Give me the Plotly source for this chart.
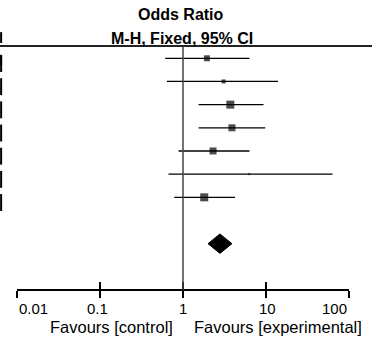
import math
import plotly.graph_objects as go

# Study rows (odds ratio, 95% CI)
rows = [0, 1, 2, 3, 4, 5, 6]
or_point = [1.94, 3.08, 3.71, 3.88, 2.30, 6.27, 1.80]
ci_low = [0.61, 0.64, 1.54, 1.54, 0.885, 0.67, 0.785]
ci_high = [6.3, 13.9, 9.3, 9.75, 6.3, 62.8, 4.23]
weight_px = [6, 4, 8, 7, 7, 2, 8]

# Pooled estimate
pooled_row = 8
pooled_or = 2.78
pooled_low = 2.0
pooled_high = 3.88

tick_vals = [0.01, 0.1, 1, 10, 100]
tick_text = ["0.01", "0.1", "1", "10", "100"]

FONT = "Liberation Sans, Arial, sans-serif"
W, H = 372, 339
y_top, y_bot = -2.516, 12.115
axis_row = 10

fig = go.Figure()

# Study estimates with CI
fig.add_trace(go.Scatter(
    x=or_point, y=rows, mode="markers",
    marker=dict(symbol="square", size=weight_px, color="black", line=dict(width=0)),
    error_x=dict(type="data", symmetric=False,
                 array=[h - p for h, p in zip(ci_high, or_point)],
                 arrayminus=[p - l for p, l in zip(or_point, ci_low)],
                 color="black", thickness=1.3, width=0),
    showlegend=False, cliponaxis=False, hoverinfo="skip"))

# Pooled diamond
dh = 0.42
fig.add_trace(go.Scatter(
    x=[pooled_low, pooled_or, pooled_high, pooled_or, pooled_low],
    y=[pooled_row, pooled_row - dh, pooled_row, pooled_row + dh, pooled_row],
    mode="lines", fill="toself", fillcolor="black",
    line=dict(color="black", width=1), showlegend=False, hoverinfo="skip"))

# Dummy trace for the second (inside-tick) axis
fig.add_trace(go.Scatter(x=[1], y=[axis_row], xaxis="x2", mode="markers",
                         marker=dict(size=0.1, opacity=0), showlegend=False,
                         hoverinfo="skip"))

shapes = []
# line of no effect
shapes.append(dict(type="line", xref="x", yref="y", x0=1, x1=1, y0=-0.52, y1=axis_row,
                   line=dict(color="#444", width=1.5)))
# header rule
shapes.append(dict(type="line", xref="paper", yref="y", x0=0, x1=1, y0=-0.53, y1=-0.53,
                   line=dict(color="#222", width=2)))
# clipped table edge marks at the left
for r in [-1] + rows + [pooled_row]:
    if r == -1:
        a, b = -1.13, -0.66
    elif r == pooled_row:
        a, b = -0.15, 0.3
    else:
        a, b = r - 0.14, r + 0.59
    shapes.append(dict(type="line", xref="paper", yref="y", x0=0.003, x1=0.003, y0=a, y1=b,
                       line=dict(color="black", width=2)))

axis_pos = (y_bot - axis_row) / (y_bot - y_top)

common = dict(type="log", range=[-2, 2], domain=[16.7 / W, 349.3 / W],
              anchor="free", position=axis_pos, showgrid=False, zeroline=False,
              showline=True, linecolor="black", linewidth=1.5, automargin=False,
              tickvals=tick_vals, tickcolor="black", tickwidth=1.5, ticklen=7,
              showticklabels=False)

annotations = [
    dict(text="<b>Odds Ratio</b>", xref="paper", yref="paper", x=181 / W,
         y=(H - 15) / H, showarrow=False, xanchor="center", yanchor="middle",
         font=dict(family=FONT, size=16, color="black")),
    dict(text="<b>M-H, Fixed, 95% CI</b>", xref="paper", yref="paper", x=181.5 / W,
         y=(H - 38) / H, showarrow=False, xanchor="center", yanchor="middle",
         font=dict(family=FONT, size=16, color="black")),
    dict(text="Favours [control]", xref="paper", yref="paper", x=175 / W,
         y=(H - 327) / H, showarrow=False, xanchor="right", yanchor="middle",
         font=dict(family=FONT, size=16.5, color="black")),
    dict(text="Favours [experimental]", xref="paper", yref="paper", x=192 / W,
         y=(H - 327) / H, showarrow=False, xanchor="left", yanchor="middle",
         font=dict(family=FONT, size=16.5, color="black")),
]
# tick labels (end labels kept inside the axis span, as in the reference)
label_anchor = ["left", "center", "center", "center", "right"]
label_shift = [0, -2, 0, 1, 0]
for v, t, a, s in zip(tick_vals, tick_text, label_anchor, label_shift):
    annotations.append(dict(text=t, xref="x", yref="y", x=math.log10(v), y=axis_row + 0.82,
                            xshift=s, showarrow=False, xanchor=a, yanchor="middle",
                            font=dict(family=FONT, size=15, color="black")))

fig.update_layout(
    width=W, height=H, margin=dict(l=0, r=0, t=0, b=0, pad=0, autoexpand=False),
    paper_bgcolor="white", plot_bgcolor="white",
    xaxis=dict(**common, ticks="outside"),
    xaxis2=dict(**common, ticks="inside", overlaying="x"),
    yaxis=dict(range=[y_bot, y_top], visible=False, domain=[0, 1], automargin=False),
    shapes=shapes,
    annotations=annotations,
)

fig.write_html("out.html", config={"displayModeBar": False},
               post_script="document.body.style.margin='0';")
